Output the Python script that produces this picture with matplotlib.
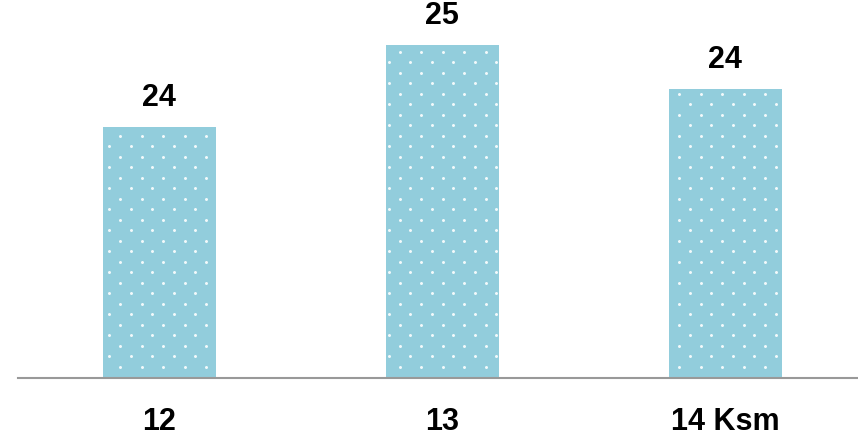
import numpy as np
import matplotlib.pyplot as plt
from matplotlib.transforms import IdentityTransform

plt.rcParams['font.family'] = ['Liberation Sans', 'DejaVu Sans']

# Dane
categories = ['12', '13', '14 Ksm']
values = [23.6, 24.6, 24.06]
y_min, y_max = 20.54, 25.15

bar_color = '#92CDDC'

W, H = 858, 438
fig = plt.figure(figsize=(W / 100, H / 100), dpi=100)
ax = fig.add_axes([18 / W, 60 / H, 840 / W, 378 / H])

x = np.arange(len(categories))
bars = ax.bar(x, values, width=0.4, color=bar_color, linewidth=0)

ax.set_xlim(-0.5, 2.47)
ax.set_ylim(y_min, y_max)

# Wzór kropek (siatka w pikselach, co drugi rząd przesunięty)
dx, dy = 21.5, 10.5
px, py = [], []
for r in range(-2, int(H / dy) + 3):
    yy = H - (135.7 + (r - 13) * dy)
    off = (r % 2) * dx / 2
    xs = 109.3 + off + dx * np.arange(-6, int(W / dx) + 2)
    px.extend(xs)
    py.extend([yy] * len(xs))
px, py = np.array(px), np.array(py)

for b in bars:
    (x0, y0), (x1, y1) = ax.transData.transform(
        [(b.get_x(), y_min), (b.get_x() + b.get_width(), b.get_height())])
    m = (px > x0 + 1) & (px < x1 - 1) & (py > y0 + 1) & (py < y1 - 1)
    ax.scatter(px[m], py[m], s=4.5, color='white', alpha=0.9, linewidths=0,
               transform=IdentityTransform(), zorder=3, clip_on=False)

# Etykiety wartości nad słupkami
for xi, v in zip(x, values):
    ax.annotate(f'{v:.0f}', (xi, v), xytext=(0, 10), textcoords='offset points',
                ha='center', va='bottom', fontsize=22, fontweight='bold')

ax.set_xticks(x)
ax.set_xticklabels(categories, fontsize=22, fontweight='bold')
ax.tick_params(axis='x', length=0, pad=21)
ax.set_yticks([])
for side in ['top', 'right', 'left']:
    ax.spines[side].set_visible(False)
ax.spines['bottom'].set_color('#999999')
ax.spines['bottom'].set_linewidth(1.5)
ax.spines['bottom'].set_zorder(4)

fig.savefig('out.png', dpi=100)
